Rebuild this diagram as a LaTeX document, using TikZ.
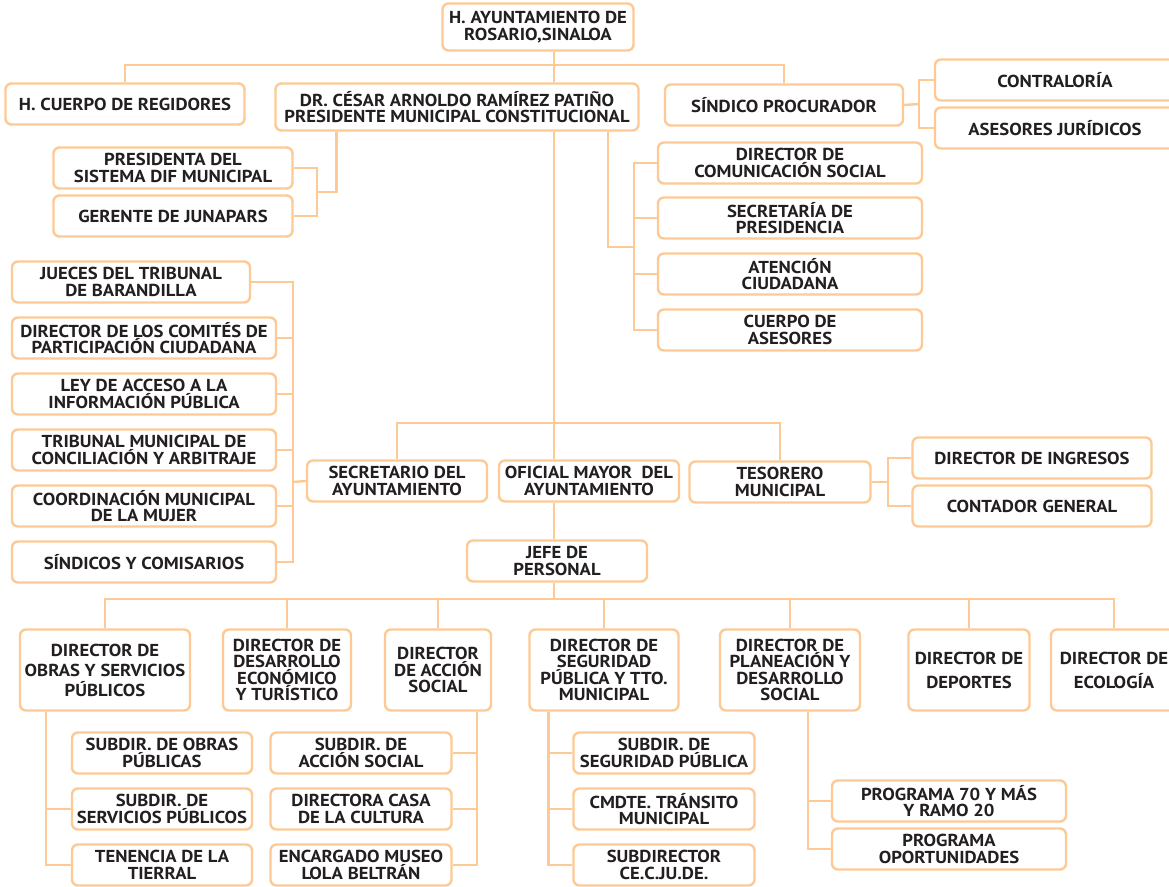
\documentclass[tikz,border=0pt]{standalone}
\usepackage{fontspec}
\setmainfont{PT Sans}[FakeStretch=1.08]
\usepackage{tikz}
\usetikzlibrary{calc}
\definecolor{boxline}{RGB}{253,202,150}
\definecolor{boxtext}{RGB}{35,31,32}

\begin{document}
\begin{tikzpicture}[x=1pt,y=-1pt,font=\fontsize{17.3}{16.5}\selectfont\bfseries,
  box/.style={draw=boxline,line width=2.4pt,rounded corners=6pt,fill=white,text=boxtext,
    align=center,inner sep=0pt,minimum height=41pt,minimum width=#1},
  tall/.style={box=#1,minimum height=81pt},
  link/.style={draw=boxline,line width=2.4pt}]
  \path[use as bounding box,fill=white] (0,0) rectangle (1169,886);

  \node[box=191pt,minimum height=47pt] (top) at (538,27) {H. AYUNTAMIENTO DE\\ROSARIO,SINALOA};
  \node[box=239pt] (cuerpo) at (125,104) {H. CUERPO DE REGIDORES};
  \node[box=363pt,minimum height=47pt] (pres) at (457,107) {DR. CÉSAR ARNOLDO RAMÍREZ PATIÑO\\PRESIDENTE MUNICIPAL CONSTITUCIONAL};
  \node[box=238pt] (sindico) at (784,105) {SÍNDICO PROCURADOR};
  \node[box=240pt] (contra) at (1055,80) {CONTRALORÍA};
  \node[box=240pt] (juridicos) at (1055,128) {ASESORES JURÍDICOS};
  \node[box=239pt] (dif) at (173,168) {PRESIDENTA DEL\\SISTEMA DIF MUNICIPAL};
  \node[box=239pt] (junapars) at (173,216) {GERENTE DE JUNAPARS};
  \foreach \y/\n/\t in {163/comsoc/{DIRECTOR DE\\COMUNICACIÓN SOCIAL},218/secpres/{SECRETARÍA DE\\PRESIDENCIA},
      274/atencion/{ATENCIÓN\\CIUDADANA},330/asesores/{CUERPO DE\\ASESORES}}
    \node[box=264pt] (\n) at (790,\y) {\t};
  \node[box=238pt] (jueces) at (131,282) {JUECES DEL TRIBUNAL\\DE BARANDILLA};
  \foreach \y/\n/\t in {338/comites/{DIRECTOR DE LOS COMITÉS DE\\PARTICIPACIÓN CIUDADANA},394/ley/{LEY DE ACCESO A LA\\INFORMACIÓN PÚBLICA},
      450/tribunal/{TRIBUNAL MUNICIPAL DE\\CONCILIACIÓN Y ARBITRAJE},506/mujer/{COORDINACIÓN MUNICIPAL\\DE LA MUJER},
      562/comisarios/{SÍNDICOS Y COMISARIOS}}
    \node[box=264pt] (\n) at (144,\y) {\t};
  \node[box=180pt] (secretario) at (397,481) {SECRETARIO DEL\\AYUNTAMIENTO};
  \node[box=180pt] (oficial) at (589,481) {OFICIAL MAYOR\ \ DEL\\AYUNTAMIENTO};
  \node[box=181pt] (tesorero) at (780,482) {TESORERO\\MUNICIPAL};
  \node[box=239pt] (ingresos) at (1032,458) {DIRECTOR DE INGRESOS};
  \node[box=239pt] (contador) at (1032,506) {CONTADOR GENERAL};
  \node[box=180pt] (jefe) at (557,561) {JEFE DE\\PERSONAL};

  \node[tall=170pt] (obras) at (105,670) {DIRECTOR DE\\[3.5pt]OBRAS Y SERVICIOS\\[3.5pt]PÚBLICOS};
  \node[tall=128pt] (desarrollo) at (287,670) {DIRECTOR DE\\DESARROLLO\\ECONÓMICO\\Y TURÍSTICO};
  \node[tall=106pt] (accion) at (438,670) {DIRECTOR\\DE ACCIÓN\\SOCIAL};
  \node[tall=149pt] (seguridad) at (604,670) {DIRECTOR DE\\SEGURIDAD\\PÚBLICA Y TTO.\\MUNICIPAL};
  \node[tall=140pt] (planeacion) at (790,670) {DIRECTOR DE\\PLANEACIÓN Y\\DESARROLLO\\SOCIAL};
  \node[tall=121pt] (deportes) at (969,670) {DIRECTOR DE\\[7.5pt]DEPORTES};
  \node[tall=126pt] (ecologia) at (1114,670) {DIRECTOR DE\\[7.5pt]ECOLOGÍA};

  \foreach \y/\n/\t in {753/subobras/{SUBDIR. DE OBRAS\\PÚBLICAS},809/subserv/{SUBDIR. DE\\SERVICIOS PÚBLICOS},865/tenencia/{TENENCIA DE LA\\TIERRAL}}
    \node[box=180pt] (\n) at (162,\y) {\t};
  \foreach \y/\n/\t in {753/subaccion/{SUBDIR. DE\\ACCIÓN SOCIAL},809/casa/{DIRECTORA CASA\\DE LA CULTURA},865/museo/{ENCARGADO MUSEO\\LOLA BELTRÁN}}
    \node[box=181pt] (\n) at (361,\y) {\t};
  \foreach \y/\n/\t in {753/subseg/{SUBDIR. DE\\SEGURIDAD PÚBLICA},809/transito/{CMDTE. TRÁNSITO\\MUNICIPAL},865/cecjude/{SUBDIRECTOR\\CE.C.JU.DE.}}
    \node[box=181pt] (\n) at (664,\y) {\t};
  \node[box=234pt] (prog70) at (949,801) {PROGRAMA 70 Y MÁS\\Y RAMO 20};
  \node[box=234pt] (oportun) at (949,849) {PROGRAMA\\OPORTUNIDADES};

  \coordinate (bar1) at (554,65);
  \coordinate (bar2) at (554,423);
  \coordinate (bar3) at (554,599);
  \coordinate (sindj) at (919,104);
  \coordinate (difj) at (317,192);
  \coordinate (asj) at (634,247);
  \coordinate (lcol) at (293,482);
  \coordinate (tesj) at (888,482);

  \draw[link] (top.south -| bar1) -- (pres.north -| bar1);
  \draw[link] (cuerpo.north) |- (bar1) -| (sindico.north);
  \draw[link] (sindico.east) -- (sindj);
  \draw[link] (contra.west) -| (sindj) |- (juridicos.west);
  \draw[link] ([xshift=62]pres.south west) |- (difj);
  \draw[link] (dif.east) -| (difj) |- (junapars.east);
  \draw[link] ([xshift=-32]pres.south east) |- (asj);
  \draw[link] (comsoc.west) -| (asj) |- (asesores.west);
  \foreach \n in {secpres,atencion}
    \draw[link] (asj |- \n.west) -- (\n.west);
  \draw[link] (pres.south -| bar2) -- (oficial.north -| bar2);
  \draw[link] (secretario.north) |- (bar2) -| (tesorero.north);
  \draw[link] (secretario.west) -- (lcol);
  \draw[link] (jueces.east) -| (lcol) |- (comisarios.east);
  \foreach \n in {comites,ley,tribunal,mujer}
    \draw[link] (lcol |- \n.east) -- (\n.east);
  \draw[link] (tesorero.east) -- (tesj);
  \draw[link] (ingresos.west) -| (tesj) |- (contador.west);
  \draw[link] (oficial.south -| bar2) -- (jefe.north -| bar2);
  \draw[link] (jefe.south -| bar3) -- (bar3);
  \draw[link] (obras.north) |- (bar3) -| (ecologia.north);
  \foreach \n in {desarrollo,accion,seguridad,planeacion,deportes}
    \draw[link] (\n.north) -- (\n.north |- bar3);
  \draw[link] ([xshift=27]obras.south west) |- (tenencia.west);
  \draw[link] ([xshift=27]obras.south west |- subserv.west) -- (subserv.west);
  \draw[link] ([xshift=-15]accion.south east) |- (museo.east);
  \foreach \n in {subaccion,casa}
    \draw[link] ([xshift=-15]accion.south east |- \n.east) -- (\n.east);
  \draw[link] ([xshift=20]seguridad.south west) |- (cecjude.west);
  \foreach \n in {subseg,transito}
    \draw[link] ([xshift=20]seguridad.south west |- \n.west) -- (\n.west);
  \draw[link] ([xshift=18]planeacion.south) |- (oportun.west);
  \draw[link] ([xshift=18]planeacion.south |- prog70.west) -- (prog70.west);
\end{tikzpicture}
\end{document}
